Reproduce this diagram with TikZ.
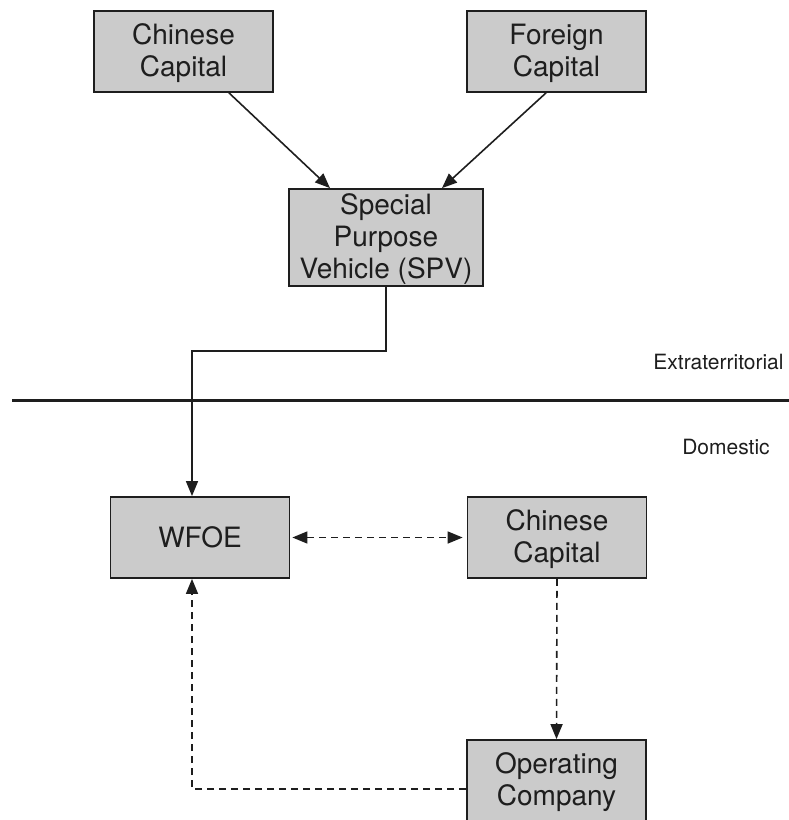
\documentclass[tikz,border=0pt]{standalone}
\usepackage{fontspec}
\setmainfont{TeX Gyre Heros}
\usetikzlibrary{arrows.meta}
\definecolor{boxfill}{HTML}{CBCBCB}
\definecolor{ink}{HTML}{1E1E1E}
% stacked lines set a little lower, keeping the box size the natural one
\newcommand{\stacked}[1]{\raisebox{-3pt}[\height][\depth]{%
  \begin{tabular}{@{}c@{}}#1\end{tabular}}}
\tikzset{
  entity/.style={draw=ink, line width=1.8pt, fill=boxfill, text=ink,
    minimum width=179pt, minimum height=81pt, inner sep=0pt,
    align=center, font=\fontsize{28}{32}\selectfont},
  flow/.style={draw=ink, line width=1.6pt,
    -{Triangle[length=15pt,width=12pt]}},
  dflow/.style={flow, dash pattern=on 7pt off 5pt},
  region/.style={text=ink, font=\fontsize{21}{24}\selectfont, inner sep=0pt}
}
\begin{document}
\begin{tikzpicture}[x=1pt, y=-1pt]
  \useasboundingbox (0,0) rectangle (789,820);

  % offshore side
  \node[entity] (cnA) at (183.5,51.5) {\stacked{Chinese\\Capital}};
  \node[entity] (frn) at (556.5,51.5) {\stacked{Foreign\\Capital}};
  \node[entity, minimum width=194pt, minimum height=97pt] (spv) at (386,237.5)
    {\stacked{Special\\Purpose\\Vehicle (SPV)}};

  % onshore side
  \node[entity] (wfoe) at (200,537.5) {WFOE};
  \node[entity] (cnB) at (557,537.5) {\stacked{Chinese\\Capital}};
  \node[entity] (opco) at (556.5,780.5) {\stacked{Operating\\Company}};

  % border between the two jurisdictions
  \coordinate (bl) at (12,400);
  \coordinate (br) at (789,400);
  \draw[ink, line width=3pt] (bl) -- (br);
  \node[region] (ext) at (718.5,362) {Extraterritorial};
  \node[region] (dom) at (726,447) {Domestic};

  % capital flows
  \draw[flow] ([xshift=45.5pt]cnA.south) -- ([xshift=-56pt]spv.north);
  \draw[flow] ([xshift=-10.5pt]frn.south) -- ([xshift=56pt]spv.north);
  \draw[flow] (spv.south) -- ++(0,64) -| ([xshift=-8pt]wfoe.north);

  % contractual control
  \draw[dflow, {Triangle[length=15pt,width=12pt]}-{Triangle[length=15pt,width=12pt]}]
    ([xshift=2pt]wfoe.east) -- ([xshift=-4pt]cnB.west);
  \draw[dflow] (cnB.south) -- (opco.north);
  \draw[dflow] ([yshift=-8.5pt]opco.west) -| ([xshift=-8pt]wfoe.south);
\end{tikzpicture}
\end{document}
